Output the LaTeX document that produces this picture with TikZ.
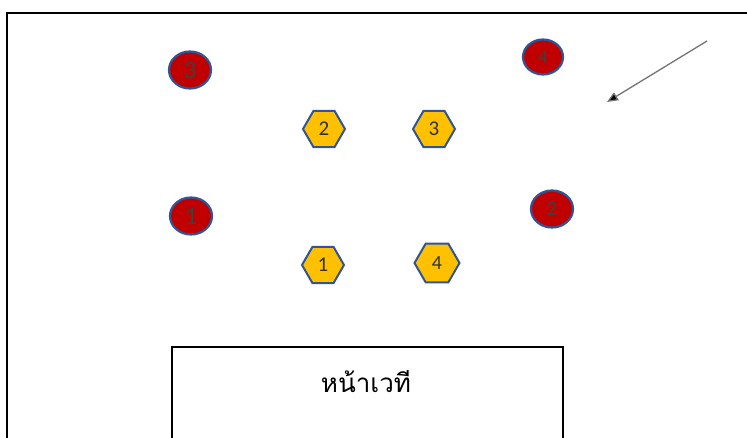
\documentclass[tikz,border=0pt]{standalone}
\usepackage{fontspec}
\setmainfont{Carlito}
\newfontfamily\thaifont[Script=Thai]{Loma}
\usetikzlibrary{positioning, arrows.meta, shapes.geometric}

\definecolor{seatred}{HTML}{C00000}
\definecolor{seatblue}{HTML}{2F5597}
\definecolor{seatgold}{HTML}{FFC000}

\begin{document}
\begin{tikzpicture}[
  x=1pt, y=-1pt,
  redseat/.style={ellipse, draw=seatblue, fill=seatred, line width=2.2pt,
    minimum width=42pt, minimum height=37pt, inner sep=0pt, text=black!75,
    font=\fontsize{25}{27}\selectfont},
  goldseat/.style={regular polygon, regular polygon sides=6, draw=seatblue,
    fill=seatgold, line width=2pt, minimum size=42pt, inner sep=0pt,
    text=black!80, font=\fontsize{21}{23}\selectfont},
  frame/.style={draw=black, line width=2pt},
]
  \useasboundingbox (0,0) rectangle (747,438);
  \clip (0,0) rectangle (747,438);

  % Outer room and stage
  \draw[frame] (7,13) rectangle (780,470);
  \node[frame, minimum width=391pt, minimum height=120pt, anchor=north west,
        inner sep=0pt] (stage) at (171,346) {};
  \node[font=\thaifont\fontsize{26}{30}\selectfont] (stagetxt) at (366,382) {หน้าเวที};

  % Red seats
  \node[redseat] (r3) at (190,70) {3};
  \node[redseat, minimum width=40pt, minimum height=35pt,
        font=\fontsize{19}{21}\selectfont] (r4) at (543,57) {4};
  \node[redseat] (r1) at (191,216) {1};
  \node[redseat, font=\fontsize{21}{23}\selectfont] (r2) at (552,209) {2};

  % Gold seats
  \node[goldseat] (g2) at (324,129) {2};
  \node[goldseat] (g3) at (434,129) {3};
  \node[goldseat] (g1) at (323,265) {1};
  \node[goldseat, minimum size=45pt, font=\fontsize{20}{22}\selectfont]
    (g4) at (437,263) {4};

  % Direction arrow
  \coordinate (arrowtail) at (707,41);
  \coordinate (arrowhead) at (607,102);
  \draw[black!55, line width=1.3pt, -{Triangle[length=11pt, width=9pt, fill=black]}]
    (arrowtail) -- (arrowhead);
\end{tikzpicture}
\end{document}
